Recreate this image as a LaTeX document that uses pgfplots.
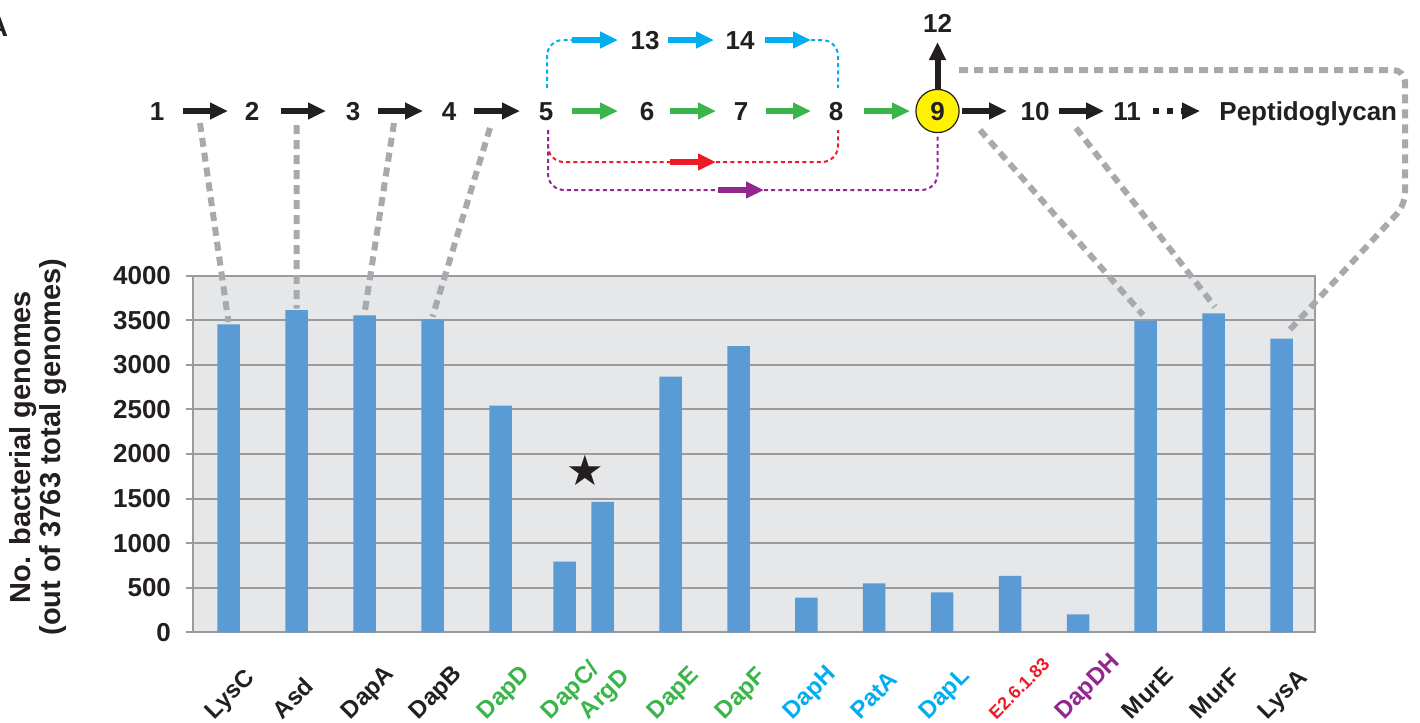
\documentclass[border=0pt]{standalone}
\usepackage{pgfplots}
\pgfplotsset{compat=1.18}
\usepackage{fontspec}
\setmainfont{Liberation Sans}
\newfontfamily\symfont{DejaVu Sans}
\usetikzlibrary{arrows.meta}
\definecolor{barblue}{HTML}{5B9BD5}
\definecolor{bggray}{HTML}{E6E7E8}
\definecolor{axgray}{HTML}{9B9B9B}
\definecolor{dashgray}{HTML}{A7A9AC}
\definecolor{pblack}{HTML}{231F20}
\definecolor{pgreen}{HTML}{39B54A}
\definecolor{pblue}{HTML}{00AEEF}
\definecolor{pred}{HTML}{ED1C24}
\definecolor{ppurple}{HTML}{92278F}
\definecolor{pyellow}{HTML}{FFF200}
\newcommand{\tfont}{\bfseries\fontsize{13}{13}\selectfont}
\newcommand{\xfont}{\bfseries\fontsize{12}{12}\selectfont}
\newcommand{\pfont}{\bfseries\fontsize{13}{15}\selectfont}
\begin{document}
\begin{tikzpicture}[
  arr/.style={line width=3pt, -{Triangle[length=9pt,width=8pt]}},
  dotl/.style={line width=1pt, dash pattern=on 2pt off 1.6pt, rounded corners=8pt},
  gdash/.style={draw=dashgray, line width=3pt, dash pattern=on 4.5pt off 3pt},
]
\begin{axis}[
  at={(96.5pt,-316.15pt)}, anchor=south west,
  scale only axis, width=561pt, height=178.3pt,
  xmin=193, xmax=1315, ymin=0, ymax=4000,
  clip=false,
  axis background/.style={fill=bggray},
  axis line style={draw=axgray, line width=1pt},
  ymajorgrids, grid style={draw=axgray, line width=1pt},
  ytick={0,500,...,4000},
  ytick pos=left, tick align=outside, major tick length=3.5pt,
  ytick style={draw=axgray, line width=1pt},
  xtick={228.5,296.5,364.5,432.5,500.5,564.7,602.7,670.5,738.5,806.3,874,942,1010,1078,1145.7,1213.7,1281.5},
  xtick style={draw=none},
  xticklabels={
    \textcolor{pblack}{LysC},\textcolor{pblack}{Asd},\textcolor{pblack}{DapA},\textcolor{pblack}{DapB},
    \textcolor{pgreen}{DapD},\textcolor{pgreen}{DapC/},\textcolor{pgreen}{ArgD},\textcolor{pgreen}{DapE},\textcolor{pgreen}{DapF},
    \textcolor{pblue}{DapH},\textcolor{pblue}{PatA},\textcolor{pblue}{DapL},{\textcolor{pred}{\fontsize{9}{10}\selectfont E2.6.1.83}},
    \textcolor{ppurple}{DapDH},\textcolor{pblack}{MurE},\textcolor{pblack}{MurF},\textcolor{pblack}{LysA}},
  xticklabel style={inner sep=0pt, xshift=-7pt, yshift=-40.5pt, rotate=45, anchor=base west, font=\xfont},
  yticklabel style={font=\tfont, text=pblack, xshift=-4pt},
  /pgf/number format/assume math mode=true,
  /pgf/number format/1000 sep={},
]
\addplot[ybar, bar width=22.5, fill=barblue, draw=none] coordinates {
 (228.5,3455) (296.5,3615) (364.5,3556) (432.5,3511) (500.5,2542)
 (564.7,792) (602.7,1462) (670.5,2867) (738.5,3211) (806.3,388)
 (874,550) (942,449) (1010,632) (1078,202) (1145.7,3495) (1213.7,3578) (1281.5,3293)};
\addplot[only marks, mark=text, text mark as node=true, color=pblack,
  text mark={\symfont\fontsize{21}{21}\selectfont ★}] coordinates {(585.7,1820)};
\coordinate (c1) at (axis cs:228.5,3480);
\coordinate (c2) at (axis cs:296.5,3630);
\coordinate (c3) at (axis cs:364.5,3580);
\coordinate (c4) at (axis cs:432.5,3540);
\coordinate (c14) at (axis cs:1143,3560);
\coordinate (c15) at (axis cs:1215,3650);
\coordinate (c16) at (axis cs:1287,3360);
\end{axis}
\begin{scope}[x=0.5pt,y=-0.5pt]
% connectors
\draw[gdash] (200,123) -- (c1);
\draw[gdash] (296.5,125) -- (c2);
\draw[gdash] (394,123) -- (c3);
\draw[gdash] (490,128) -- (c4);
\draw[gdash] (980,130) -- (c14);
\draw[gdash] (1076,128) -- (c15);
\draw[gdash, rounded corners=6pt] (959,70) -- (1405,70) -- (1405,205) -- (c16);
% coloured side routes
\draw[dotl, pblue] (547,88) -- (547,40) -- (572,40);
\draw[arr, pblue] (572,40) -- (618,40);
\draw[arr, pblue] (668,40) -- (714,40);
\draw[arr, pblue] (765,40) -- (811,40);
\draw[dotl, pblue] (811,40) -- (838,40) -- (838,88);
\draw[dotl, pred] (548,130) -- (548,162) -- (670,162);
\draw[arr, pred] (670,162) -- (716,162);
\draw[dotl, pred] (716,162) -- (838,162) -- (838,130);
\draw[dotl, ppurple] (548,130) -- (548,190) -- (718,190);
\draw[arr, ppurple] (718,190) -- (764,190);
\draw[dotl, ppurple] (764,190) -- (937.5,190) -- (937.5,134);
% main row
\draw[arr, pblack] (183,111) -- (228,111);
\draw[arr, pblack] (281,111) -- (326,111);
\draw[arr, pblack] (378,111) -- (423,111);
\draw[arr, pblack] (474,111) -- (520,111);
\draw[arr, pgreen] (572,111) -- (618,111);
\draw[arr, pgreen] (670,111) -- (716,111);
\draw[arr, pgreen] (766,111) -- (811,111);
\draw[arr, pgreen] (864,111) -- (910,111);
\draw[arr, pblack] (962,111) -- (1007,111);
\draw[arr, pblack] (1059,111) -- (1104,111);
\draw[pblack, line width=3pt, dash pattern=on 3pt off 4pt, -{Triangle[length=9pt,width=8pt]}] (1153,111) -- (1200,111);
\draw[arr, pblack] (937.5,89) -- (937.5,42);
\draw[fill=pyellow, draw=pblack, line width=0.6pt] (937.5,111) circle[radius=10.8pt];
\foreach \x/\t in {157/1,252/2,353/3,449/4,546/5,647/6,741/7,836/8,937.5/9,1035/10,1127/11}
  \node[font=\pfont, text=pblack, anchor=base, inner sep=0pt] at (\x,120) {\t};
\node[font=\pfont, text=pblack, anchor=base, inner sep=0pt] at (645,49) {13};
\node[font=\pfont, text=pblack, anchor=base, inner sep=0pt] at (740,49) {14};
\node[font=\pfont, text=pblack, anchor=base, inner sep=0pt] at (937.5,32) {12};
\node[font=\pfont, text=pblack, anchor=base west, inner sep=0pt] at (1219,120) {Peptidoglycan};
% y label
\node[rotate=90, align=center, text=pblack, font=\bfseries\fontsize{14.5}{13.5}\selectfont] at (38,447) {No. bacterial genomes\\(out of 3763 total genomes)};
\node[font=\bfseries\fontsize{14}{14}\selectfont, text=pblack, anchor=base] at (-2,36) {A};
\pgfresetboundingbox
\path[use as bounding box] (0,0) rectangle (1420,723);
\end{scope}
\end{tikzpicture}
\end{document}
